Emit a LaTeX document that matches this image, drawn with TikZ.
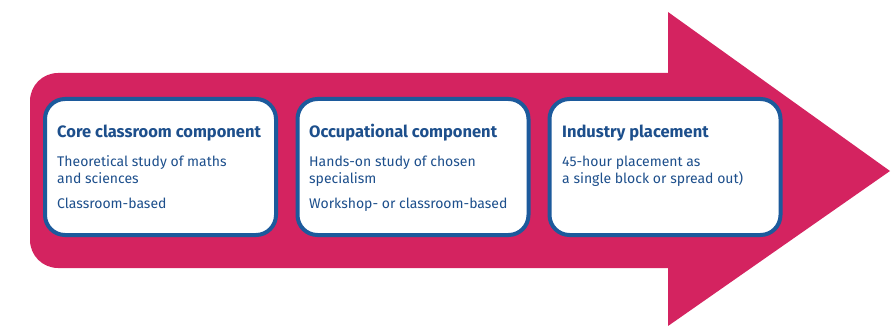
\documentclass[tikz,border=0pt]{standalone}
\usepackage{fontspec}
\setmainfont{Fira Sans}
\definecolor{arrowpink}{HTML}{D42360}
\definecolor{boxblue}{HTML}{1C5A9C}
\definecolor{txtblue}{HTML}{1D4F8C}
\begin{document}
\begin{tikzpicture}[x=1pt,y=-1pt,
  stagebox/.style={draw=boxblue,line width=4pt,fill=white,rounded corners=20pt,
    minimum width=231pt,minimum height=136pt,inner sep=0pt},
  ttl/.style={anchor=base west,inner sep=0pt,text=txtblue,font=\fontsize{16.5}{18}\selectfont\bfseries},
  bdy/.style={anchor=base west,inner sep=0pt,text=txtblue,font=\fontsize{14}{16}\selectfont}]
\useasboundingbox (0,0) rectangle (896,326);
% arrow
\fill[arrowpink,rounded corners=28pt] (30,73) rectangle (700,268);
\fill[arrowpink] (668,12) -- (890,171) -- (668,326) -- cycle;
% boxes
\node[stagebox] (box1) at (160.5,167) {};
\node[stagebox] (box2) at (413,167) {};
\node[stagebox] (box3) at (665,167) {};
% box 1
\node[ttl] (t1) at (57,138) {Core classroom component};
\node[bdy] (b1a) at (57,166) {Theoretical study of maths};
\node[bdy] (b1b) at (57,183) {and sciences};
\node[bdy] (b1c) at (57,208) {Classroom-based};
% box 2
\node[ttl] (t2) at (309,138) {Occupational component};
\node[bdy] (b2a) at (309,166) {Hands-on study of chosen};
\node[bdy] (b2b) at (309,183) {specialism};
\node[bdy] (b2c) at (309,208) {Workshop- or classroom-based};
% box 3
\node[ttl] (t3) at (562,138) {Industry placement};
\node[bdy] (b3a) at (562,166) {45-hour placement as};
\node[bdy] (b3b) at (562,183) {a single block or spread out)};
\end{tikzpicture}
\end{document}
